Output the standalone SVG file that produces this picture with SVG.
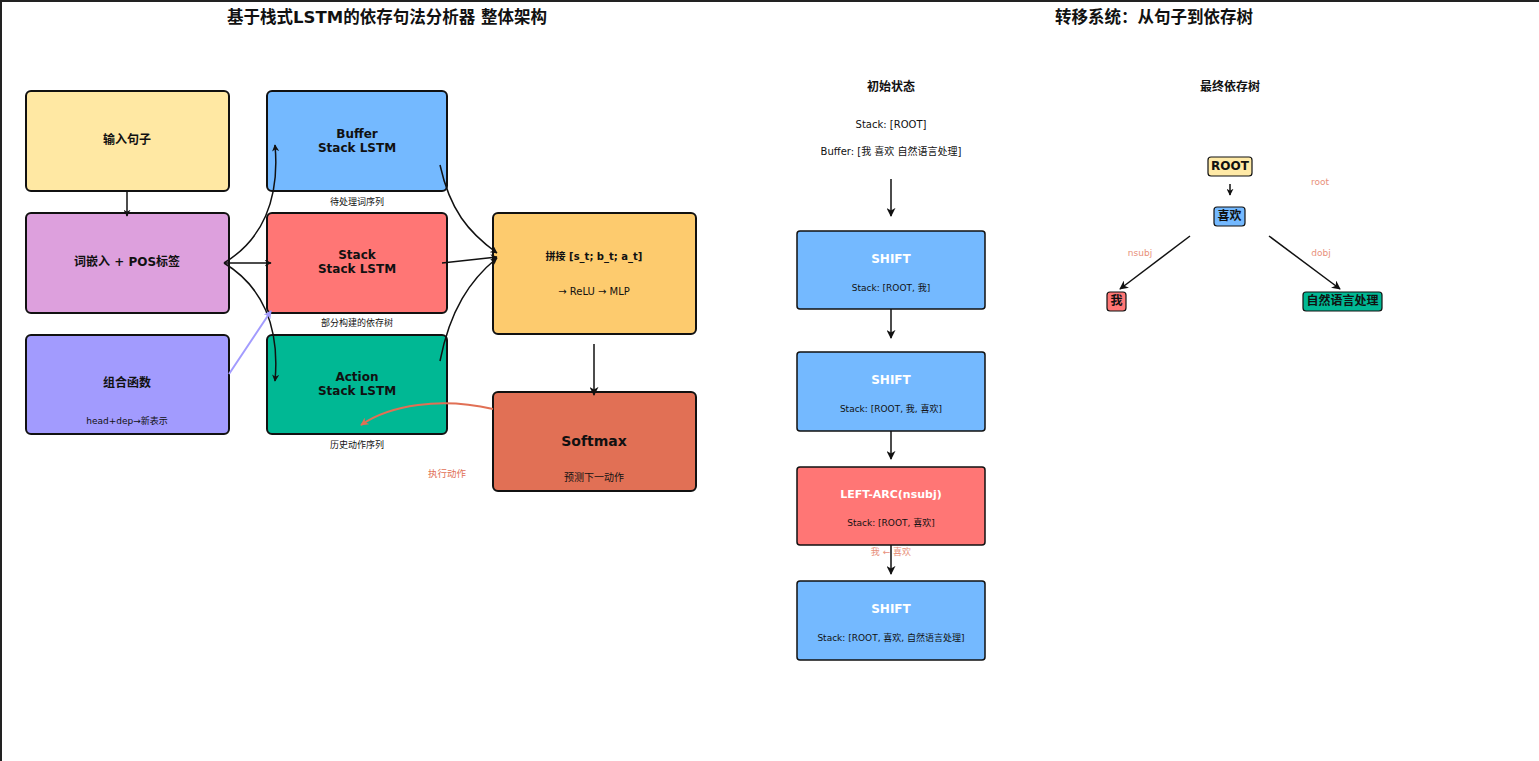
<svg xmlns="http://www.w3.org/2000/svg" width="1539" height="761" viewBox="0 0 1539 761">
<style>
text{font-family:"DejaVu Sans","Noto Sans CJK SC",sans-serif;fill:#111;text-anchor:middle;dominant-baseline:central}
.title{font-size:16.5px;font-weight:bold}
.big{font-size:12px;font-weight:bold}
.small{font-size:9px}
.mid{font-size:10px}
.lbl{font-size:9.5px;fill:#E17055}
.tlbl{font-size:9px;fill:#E8907A}
.w{fill:#fff;font-weight:bold}
.box{stroke:#111;stroke-width:2}
.tbox{stroke:#111;stroke-width:1.5}
.node{stroke:#111;stroke-width:1.2}
.con{fill:none;stroke:#111;stroke-width:1.5}
</style>
<defs>
<marker id="ah" viewBox="0 0 10 10" refX="9" refY="5" markerWidth="7" markerHeight="7" markerUnits="userSpaceOnUse" orient="auto"><path d="M0,0 L10,5 L0,10 L3,5 Z" fill="#111"/></marker>
<marker id="ahb" viewBox="0 0 10 10" refX="9" refY="5" markerWidth="9" markerHeight="9" markerUnits="userSpaceOnUse" orient="auto"><path d="M0,0 L10,5 L0,10 L3,5 Z" fill="#111"/></marker>
<marker id="ahp" viewBox="0 0 10 10" refX="9" refY="5" markerWidth="8" markerHeight="8" markerUnits="userSpaceOnUse" orient="auto"><path d="M0,0 L10,5 L0,10 L3,5 Z" fill="#A29BFE"/></marker>
<marker id="aho" viewBox="0 0 10 10" refX="9" refY="5" markerWidth="8" markerHeight="8" markerUnits="userSpaceOnUse" orient="auto"><path d="M0,0 L10,5 L0,10 L3,5 Z" fill="#E17055"/></marker>
</defs>
<rect x="0" y="0" width="1539" height="761" fill="#fff"/>
<line x1="1" y1="0" x2="1" y2="761" stroke="#222" stroke-width="2"/>
<line x1="0" y1="1" x2="1539" y2="1" stroke="#222" stroke-width="2"/>

<text class="title" x="387" y="17">基于栈式LSTM的依存句法分析器 整体架构</text>
<text class="title" x="1154" y="17">转移系统：从句子到依存树</text>

<g id="n-input"><rect class="box" x="26" y="91" width="203" height="100" rx="5" fill="#FFE8A3"/><text class="big" x="127" y="140">输入句子</text></g>
<g id="n-embed"><rect class="box" x="26" y="213" width="203" height="100" rx="5" fill="#DDA0DD"/><text class="big" x="127" y="262">词嵌入 + POS标签</text></g>
<g id="n-compose"><rect class="box" x="26" y="335" width="203" height="99" rx="5" fill="#A29BFE"/><text class="big" x="127" y="383">组合函数</text><text class="small" x="127" y="421">head+dep→新表示</text></g>
<g id="n-buffer"><rect class="box" x="267" y="91" width="180" height="100" rx="5" fill="#74B9FF"/><text class="big" x="357" y="134">Buffer</text><text class="big" x="357" y="148">Stack LSTM</text><text class="small" x="357" y="202">待处理词序列</text></g>
<g id="n-stack"><rect class="box" x="267" y="213" width="180" height="100" rx="5" fill="#FF7675"/><text class="big" x="357" y="255">Stack</text><text class="big" x="357" y="269">Stack LSTM</text><text class="small" x="357" y="323">部分构建的依存树</text></g>
<g id="n-action"><rect class="box" x="267" y="335" width="180" height="99" rx="5" fill="#00B894"/><text class="big" x="357" y="377">Action</text><text class="big" x="357" y="391">Stack LSTM</text><text class="small" x="357" y="445">历史动作序列</text></g>
<g id="n-concat"><rect class="box" x="493" y="213" width="203" height="121" rx="5" fill="#FDCB6E"/><text class="mid" font-weight="bold" x="594" y="256">拼接 [s_t; b_t; a_t]</text><text class="mid" x="594" y="291">→ ReLU → MLP</text></g>
<g id="n-softmax"><rect class="box" x="493" y="392" width="203" height="99" rx="5" fill="#E17055"/><text x="594" y="441" font-size="14" font-weight="bold">Softmax</text><text class="mid" x="594" y="477">预测下一动作</text></g>
<text class="lbl" x="447" y="473">执行动作</text>

<g id="n-init"><text class="big" x="891" y="87">初始状态</text><text class="mid" x="891" y="124">Stack: [ROOT]</text><text class="mid" x="891" y="151">Buffer: [我 喜欢 自然语言处理]</text></g>
<g id="n-s1"><rect class="tbox" x="797" y="231" width="188" height="78" rx="3" fill="#74B9FF"/><text class="big w" x="891" y="259">SHIFT</text><text class="small" x="891" y="288">Stack: [ROOT, 我]</text></g>
<g id="n-s2"><rect class="tbox" x="797" y="352" width="188" height="79" rx="3" fill="#74B9FF"/><text class="big w" x="891" y="380">SHIFT</text><text class="small" x="891" y="409">Stack: [ROOT, 我, 喜欢]</text></g>
<g id="n-s3"><rect class="tbox" x="797" y="467" width="188" height="78" rx="3" fill="#FF7675"/><text class="w" font-size="11" x="891" y="494">LEFT-ARC(nsubj)</text><text class="small" x="891" y="523">Stack: [ROOT, 喜欢]</text></g>
<text class="tlbl" x="891" y="552">我 ← 喜欢</text>
<g id="n-s4"><rect class="tbox" x="797" y="581" width="188" height="79" rx="3" fill="#74B9FF"/><text class="big w" x="891" y="609">SHIFT</text><text class="small" x="891" y="638">Stack: [ROOT, 喜欢, 自然语言处理]</text></g>

<text class="big" x="1230" y="87">最终依存树</text>
<g id="t-root"><rect class="node" x="1208" y="157" width="44" height="19" rx="3" fill="#FFEAA7"/><text class="big" x="1230" y="166">ROOT</text></g>
<g id="t-like"><rect class="node" x="1214" y="207" width="31" height="19" rx="3" fill="#74B9FF"/><text class="big" x="1229.5" y="216">喜欢</text></g>
<g id="t-wo"><rect class="node" x="1107" y="292" width="19" height="19" rx="3" fill="#FF7675"/><text class="big" x="1116.5" y="301">我</text></g>
<g id="t-nlp"><rect class="node" x="1303" y="292" width="79" height="19" rx="3" fill="#00B894"/><text class="big" x="1342.5" y="301">自然语言处理</text></g>
<text class="tlbl" x="1320" y="182">root</text>
<text class="tlbl" x="1140" y="253">nsubj</text>
<text class="tlbl" x="1321" y="253">dobj</text>

<g id="connectors">
<line class="con" x1="127" y1="191" x2="127" y2="216" stroke-width="2" marker-end="url(#ah)"/>
<path class="con" d="M224,263 C262,240 280,200 275,145" marker-end="url(#ah)"/>
<line class="con" x1="224" y1="263" x2="271" y2="263" marker-end="url(#ah)"/>
<path class="con" d="M224,263 C262,286 280,326 275,381" marker-end="url(#ah)"/>
<line x1="229" y1="374" x2="271" y2="311" stroke="#A29BFE" stroke-width="2" marker-end="url(#ahp)"/>
<path class="con" d="M440,165 C450,210 468,232 497,253" marker-end="url(#ah)"/>
<line class="con" x1="442" y1="263" x2="497" y2="257" marker-end="url(#ah)"/>
<path class="con" d="M440,361 C450,310 470,280 497,258" marker-end="url(#ah)"/>
<line class="con" x1="594" y1="344" x2="594" y2="395" stroke-width="2" marker-end="url(#ahb)"/>
<path d="M493,409 C440,397 390,405 361,425" fill="none" stroke="#E17055" stroke-width="2" marker-end="url(#aho)"/>

<line class="con" x1="891" y1="179" x2="891" y2="216" stroke-width="2" marker-end="url(#ahb)"/>
<line class="con" x1="891" y1="309" x2="891" y2="338" stroke-width="2" marker-end="url(#ahb)"/>
<line class="con" x1="891" y1="431" x2="891" y2="459" stroke-width="2" marker-end="url(#ahb)"/>
<line class="con" x1="891" y1="545" x2="891" y2="574" stroke-width="2" marker-end="url(#ahb)"/>

<line class="con" x1="1230" y1="184" x2="1230" y2="195" stroke-width="2" marker-end="url(#ah)"/>
<line class="con" x1="1190" y1="236" x2="1120" y2="289" marker-end="url(#ahb)"/>
<line class="con" x1="1269" y1="236" x2="1340" y2="289" marker-end="url(#ahb)"/>
</g>
</svg>
